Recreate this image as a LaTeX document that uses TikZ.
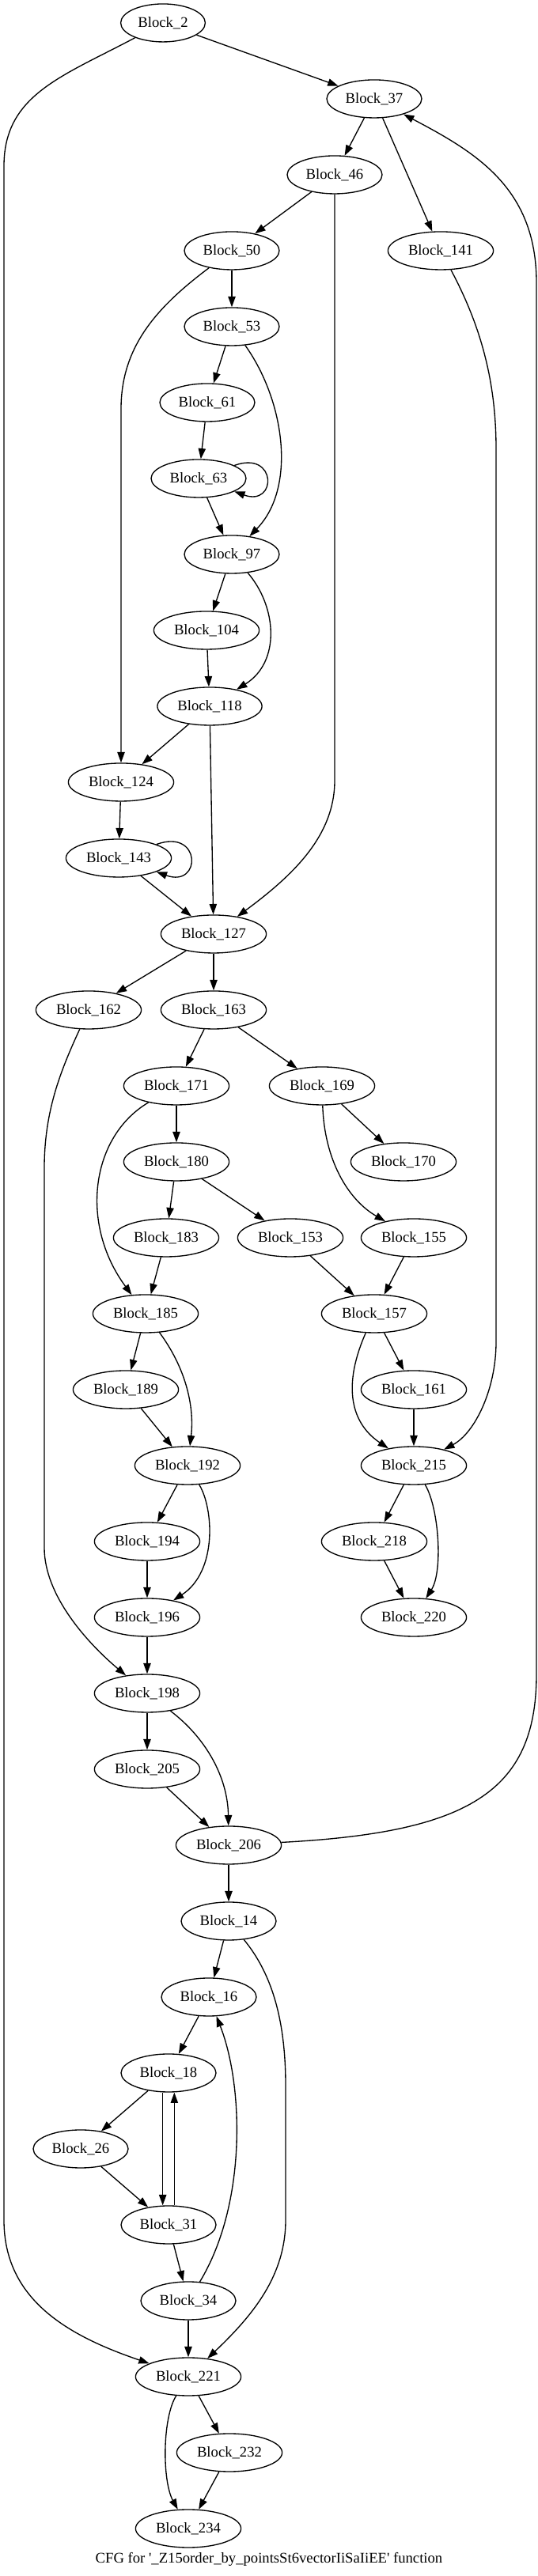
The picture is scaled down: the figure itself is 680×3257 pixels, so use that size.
\documentclass[tikz,border=0pt]{standalone}
\usepackage{fontspec}
\setmainfont{Liberation Serif}
\usepackage{tikz}
\usetikzlibrary{arrows.meta,shapes.geometric}

\begin{document}
\begin{tikzpicture}[x=0.75pt,y=0.75pt,
	block/.style={draw,ellipse,line width=1pt,inner xsep=4.6pt,inner ysep=1pt,minimum height=36pt,font=\fontsize{14pt}{16pt}\selectfont},
	flow/.style={line width=1pt,-{Triangle[length=10pt,width=7pt]}}]
	\useasboundingbox (0,0) rectangle (680,3257);
	% blocks, one rank every 96 units
	\node[block] (b2) at (206,3228) {Block\_2};
	\node[block] (b37) at (473,3132) {Block\_37};
	\node[block] (b46) at (423,3036) {Block\_46};
	\node[block] (b50) at (293,2940) {Block\_50};
	\node[block] (b141) at (557,2940) {Block\_141};
	\node[block] (b53) at (293,2844) {Block\_53};
	\node[block] (b61) at (262,2748) {Block\_61};
	\node[block] (b63) at (251,2652) {Block\_63};
	\node[block] (b97) at (293,2556) {Block\_97};
	\node[block] (b104) at (261,2460) {Block\_104};
	\node[block] (b118) at (265,2364) {Block\_118};
	\node[block] (b124) at (153,2268) {Block\_124};
	\node[block] (b143) at (150,2172) {Block\_143};
	\node[block] (b127) at (270,2076) {Block\_127};
	\node[block] (b162) at (112,1980) {Block\_162};
	\node[block] (b163) at (270,1980) {Block\_163};
	\node[block] (b171) at (223,1884) {Block\_171};
	\node[block] (b169) at (407,1884) {Block\_169};
	\node[block] (b180) at (223,1788) {Block\_180};
	\node[block] (b170) at (510,1788) {Block\_170};
	\node[block] (b183) at (210,1692) {Block\_183};
	\node[block] (b153) at (367,1692) {Block\_153};
	\node[block] (b155) at (523,1692) {Block\_155};
	\node[block] (b185) at (184,1596) {Block\_185};
	\node[block] (b157) at (473,1596) {Block\_157};
	\node[block] (b189) at (159,1500) {Block\_189};
	\node[block] (b161) at (523,1500) {Block\_161};
	\node[block] (b192) at (237,1404) {Block\_192};
	\node[block] (b215) at (523,1404) {Block\_215};
	\node[block] (b194) at (186,1308) {Block\_194};
	\node[block] (b218) at (473,1308) {Block\_218};
	\node[block] (b196) at (186,1212) {Block\_196};
	\node[block] (b220) at (523,1212) {Block\_220};
	\node[block] (b198) at (186,1116) {Block\_198};
	\node[block] (b205) at (186,1020) {Block\_205};
	\node[block] (b206) at (289,924) {Block\_206};
	\node[block] (b14) at (289,828) {Block\_14};
	\node[block] (b16) at (264,732) {Block\_16};
	\node[block] (b18) at (213,636) {Block\_18};
	\node[block] (b26) at (102,540) {Block\_26};
	\node[block] (b31) at (213,444) {Block\_31};
	\node[block] (b34) at (238,348) {Block\_34};
	\node[block] (b221) at (238,252) {Block\_221};
	\node[block] (b232) at (290,156) {Block\_232};
	\node[block] (b234) at (238,60) {Block\_234};
	\node[font=\fontsize{14pt}{16pt}\selectfont] (caption) at (340,21) {CFG for \textquotesingle\_Z15order\_by\_pointsSt6vectorIiSaIiEE\textquotesingle{} function};
	% edges
	\draw[flow] (b2) -- (b37);
	\draw[flow] (b2) .. controls (78,3160) and (5,3137) .. (5,3047) -- (5,450) .. controls (5,350) and (85,304) .. (b221);
	\draw[flow] (b37) -- (b46);
	\draw[flow] (b37) -- (b141);
	\draw[flow] (b46) -- (b50);
	\draw[flow] (b46) -- (423,2270) .. controls (423,2200) and (370,2150) .. (b127);
	\draw[flow] (b50) -- (b53);
	\draw[flow] (b50) .. controls (200,2870) and (153,2820) .. (153,2740) -- (b124);
	\draw[flow] (b141) .. controls (605,2850) and (627,2780) .. (627,2690) -- (627,1560) .. controls (627,1500) and (600,1445) .. (b215);
	\draw[flow] (b53) -- (b61);
	\draw[flow] (b53) .. controls (360,2750) and (375,2640) .. (b97);
	\draw[flow] (b61) -- (b63);
	\draw[flow] (b63.20) to[out=20,in=-20,looseness=4.5] (b63.-20);
	\draw[flow] (b63) -- (b97);
	\draw[flow] (b97) -- (b104);
	\draw[flow] (b97) .. controls (350,2490) and (355,2420) .. (b118);
	\draw[flow] (b104) -- (b118);
	\draw[flow] (b118) -- (b124);
	\draw[flow] (b118) -- (b127);
	\draw[flow] (b124) -- (b143);
	\draw[flow] (b143.20) to[out=20,in=-20,looseness=4.5] (b143.-20);
	\draw[flow] (b143) -- (b127);
	\draw[flow] (b127) -- (b162);
	\draw[flow] (b127) -- (b163);
	\draw[flow] (b162) .. controls (75,1900) and (56,1850) .. (56,1780) -- (56,1300) .. controls (56,1240) and (110,1180) .. (b198);
	\draw[flow] (b163) -- (b171);
	\draw[flow] (b163) -- (b169);
	\draw[flow] (b171) -- (b180);
	\draw[flow] (b171) .. controls (115,1820) and (100,1710) .. (b185);
	\draw[flow] (b169) -- (b170);
	\draw[flow] (b169) .. controls (410,1790) and (440,1740) .. (b155);
	\draw[flow] (b180) -- (b183);
	\draw[flow] (b180) -- (b153);
	\draw[flow] (b183) -- (b185);
	\draw[flow] (b153) -- (b157);
	\draw[flow] (b155) -- (b157);
	\draw[flow] (b185) -- (b189);
	\draw[flow] (b185) .. controls (240,1520) and (245,1470) .. (b192);
	\draw[flow] (b157) -- (b161);
	\draw[flow] (b157) .. controls (435,1510) and (440,1460) .. (b215);
	\draw[flow] (b189) -- (b192);
	\draw[flow] (b161) -- (b215);
	\draw[flow] (b192) -- (b194);
	\draw[flow] (b192) .. controls (270,1350) and (275,1270) .. (b196);
	\draw[flow] (b215) -- (b218);
	\draw[flow] (b215) .. controls (555,1350) and (560,1270) .. (b220);
	\draw[flow] (b218) -- (b220);
	\draw[flow] (b194) -- (b196);
	\draw[flow] (b196) -- (b198);
	\draw[flow] (b198) -- (b205);
	\draw[flow] (b198) .. controls (260,1060) and (288,1010) .. (b206);
	\draw[flow] (b205) -- (b206);
	\draw[flow] (b206) -- (b14);
	\draw[flow] (b206) .. controls (590,940) and (678,990) .. (678,1140) -- (678,2900) .. controls (678,3020) and (600,3065) .. (b37);
	\draw[flow] (b14) -- (b16);
	\draw[flow] (b14) .. controls (345,760) and (361,700) .. (361,620) -- (361,450) .. controls (361,380) and (320,330) .. (b221);
	\draw[flow] (b16) -- (b18);
	\draw[flow] (b18) -- (b26);
	\draw[flow] ([xshift=-5.5pt]b18.south) -- ([xshift=-5.5pt]b31.north);
	\draw[flow] ([xshift=5.5pt]b31.north) -- ([xshift=5.5pt]b18.south);
	\draw[flow] (b26) -- (b31);
	\draw[flow] (b31) -- (b34);
	\draw[flow] (b34) .. controls (312,470) and (308,620) .. (b16);
	\draw[flow] (b34) -- (b221);
	\draw[flow] (b221) -- (b232);
	\draw[flow] (b221) .. controls (205,200) and (205,120) .. (b234);
	\draw[flow] (b232) -- (b234);
\end{tikzpicture}
\end{document}
